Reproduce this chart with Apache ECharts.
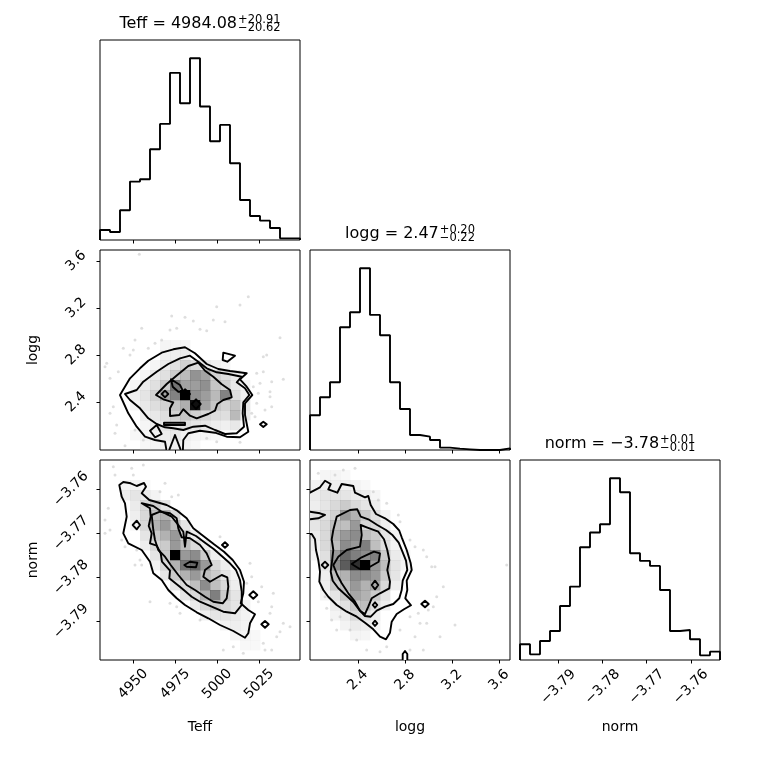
<!DOCTYPE html>
<html>
<head>
<meta charset="utf-8">
<title>corner plot</title>
<script src="https://cdn.jsdelivr.net/npm/echarts@6/dist/echarts.min.js"></script>
<style>
html, body { margin: 0; padding: 0; background: #fff; }
#chart { width: 760px; height: 760px; }
</style>
</head>
<body>
<div id="chart"></div>
<script>
// parameter names and plotted ranges (20 histogram bins across each range)
var dims = ['Teff', 'logg', 'norm'];
var teffRange = [4930.2, 5049.3];
var loggRange = [1.993, 3.693];
var normRange = [-3.7987, -3.7534];
var teffTicks = [4950, 4975, 5000, 5025];
var loggTicks = [2.4, 2.8, 3.2, 3.6];
var normTicks = [-3.79, -3.78, -3.77, -3.76];

// 1D histograms
var teffHist = [30, 24, 89, 175, 182, 272, 348, 501, 410, 545, 400, 296, 345, 230, 120, 72, 58, 36, 5, 5];
var loggHist = [104, 158, 203, 368, 413, 545, 405, 344, 203, 123, 45, 40, 30, 7, 4, 2, 0, 0, 0, 5];
var normHist = [47, 17, 57, 87, 162, 220, 338, 382, 407, 545, 503, 320, 297, 282, 210, 87, 90, 62, 14, 25];

// median, +err, -err
var teffStat = ['4984.08', '20.91', '20.62'];
var loggStat = ['2.47', '0.20', '0.22'];
var normStat = ['-3.78', '0.01', '0.01'];

// 2D histogram cells: [x bin, y bin, density relative to max]
var teffLoggCells = [
  [6,10,.2],[7,10,.2],[8,10,.2],
  [6,9,.24],[7,9,.26],[8,9,.28],
  [5,8,.2],[6,8,.28],[7,8,.35],[8,8,.42],[9,8,.38],[10,8,.3],[11,8,.24],[12,8,.2],
  [4,7,.2],[5,7,.28],[6,7,.35],[7,7,.45],[8,7,.52],[9,7,.65],[10,7,.6],[11,7,.42],[12,7,.35],[13,7,.28],
  [3,6,.2],[4,6,.28],[5,6,.35],[6,6,.45],[7,6,.74],[8,6,.6],[9,6,.62],[10,6,.66],[11,6,.48],[12,6,.42],[13,6,.3],[14,6,.2],
  [3,5,.24],[4,5,.32],[5,5,.42],[6,5,.6],[7,5,.7],[8,5,1],[9,5,.66],[10,5,.62],[11,5,.52],[12,5,.7],[13,5,.36],[14,5,.24],
  [3,4,.2],[4,4,.3],[5,4,.36],[6,4,.42],[7,4,.48],[8,4,.56],[9,4,.97],[10,4,.6],[11,4,.48],[12,4,.42],[13,4,.48],[14,4,.3],
  [4,3,.24],[5,3,.3],[6,3,.36],[7,3,.42],[8,3,.48],[9,3,.42],[10,3,.4],[11,3,.36],[12,3,.36],[13,3,.52],[14,3,.3],
  [4,2,.2],[5,2,.26],[6,2,.3],[7,2,.32],[8,2,.36],[9,2,.32],[10,2,.3],[11,2,.26],[12,2,.24],[13,2,.3],
  [3,1,.18],[4,1,.2],[5,1,.24],[6,1,.26],[7,1,.3],[8,1,.24],[9,1,.2],[10,1,.2],[11,1,.18],
  [4,0,.18],[5,0,.2],[6,0,.24],[7,0,.26],[8,0,.22],[9,0,.18]
];
var teffNormCells = [
  [2,17,.22],[3,17,.22],[4,17,.17],
  [2,16,.26],[3,16,.32],[4,16,.28],[5,16,.22],
  [3,15,.28],[4,15,.39],[5,15,.45],[6,15,.32],
  [3,14,.26],[4,14,.39],[5,14,.5],[6,14,.55],[7,14,.39],
  [3,13,.22],[4,13,.39],[5,13,.55],[6,13,.63],[7,13,.5],[8,13,.32],
  [4,12,.32],[5,12,.45],[6,12,.55],[7,12,.63],[8,12,.39],[9,12,.28],
  [4,11,.26],[5,11,.39],[6,11,.45],[7,11,.63],[8,11,.5],[9,11,.39],[10,11,.26],
  [5,10,.32],[6,10,.45],[7,10,1],[8,10,.63],[9,10,.67],[10,10,.45],[11,10,.26],
  [5,9,.22],[6,9,.39],[7,9,.55],[8,9,.74],[9,9,.77],[10,9,.63],[11,9,.39],[12,9,.26],
  [6,8,.32],[7,8,.45],[8,8,.55],[9,8,.63],[10,8,.5],[11,8,.45],[12,8,.32],[13,8,.22],
  [7,7,.32],[8,7,.39],[9,7,.5],[10,7,.67],[11,7,.5],[12,7,.39],[13,7,.26],
  [8,6,.32],[9,6,.39],[10,6,.55],[11,6,.71],[12,6,.45],[13,6,.32],
  [9,5,.28],[10,5,.39],[11,5,.45],[12,5,.39],[13,5,.32],[14,5,.22],
  [10,4,.26],[11,4,.32],[12,4,.32],[13,4,.28],[14,4,.22],
  [12,3,.22],[13,3,.26],[14,3,.22],
  [13,2,.2],[14,2,.2],[15,2,.17],
  [14,1,.17],[15,1,.17]
];
var loggNormCells = [
  [1,18,.2],[2,18,.2],[3,18,.17],
  [0,17,.22],[1,17,.26],[2,17,.26],[3,17,.22],[4,17,.22],[5,17,.17],
  [0,16,.26],[1,16,.32],[2,16,.32],[3,16,.32],[4,16,.28],[5,16,.26],[6,16,.2],
  [0,15,.26],[1,15,.32],[2,15,.39],[3,15,.45],[4,15,.39],[5,15,.32],[6,15,.26],
  [0,14,.32],[1,14,.35],[2,14,.42],[3,14,.63],[4,14,.55],[5,14,.45],[6,14,.35],[7,14,.22],
  [0,13,.32],[1,13,.39],[2,13,.5],[3,13,.5],[4,13,.63],[5,13,.39],[6,13,.39],[7,13,.26],
  [0,12,.28],[1,12,.39],[2,12,.55],[3,12,.63],[4,12,.67],[5,12,.5],[6,12,.45],[7,12,.32],[8,12,.22],
  [0,11,.26],[1,11,.39],[2,11,.5],[3,11,.67],[4,11,.63],[5,11,.71],[6,11,.5],[7,11,.35],[8,11,.22],
  [0,10,.22],[1,10,.35],[2,10,.63],[3,10,.77],[4,10,.71],[5,10,.67],[6,10,.71],[7,10,.45],[8,10,.28],[9,10,.2],
  [1,9,.32],[2,9,.67],[3,9,.8],[4,9,.9],[5,9,1],[6,9,.63],[7,9,.5],[8,9,.32],[9,9,.22],
  [1,8,.26],[2,8,.5],[3,8,.55],[4,8,.67],[5,8,.67],[6,8,.63],[7,8,.45],[8,8,.32],
  [1,7,.26],[2,7,.45],[3,7,.5],[4,7,.63],[5,7,.55],[6,7,.59],[7,7,.39],[8,7,.26],
  [1,6,.22],[2,6,.32],[3,6,.45],[4,6,.59],[5,6,.55],[6,6,.45],[7,6,.32],
  [2,5,.26],[3,5,.35],[4,5,.45],[5,5,.5],[6,5,.35],[7,5,.26],
  [2,4,.22],[3,4,.28],[4,4,.39],[5,4,.35],[6,4,.26],
  [3,3,.22],[4,3,.28],[5,3,.26],[6,3,.22],
  [4,2,.2],[5,2,.2]
];

// contour loops in bin units (x bin, y bin); the outer level is filled white
var teffLoggOuter = [
  [[2.0,5.5],[3.0,7.17],[4.0,8.17],[4.83,8.93],[6.17,9.73],[7.33,10.07],[8.5,10.27],[9.5,9.67],[10.67,8.6],[11.83,8.1],[13.0,7.9],[14.67,7.67],[14.0,7.07],[14.67,6.33],[15.23,5.5],[14.5,4.67],[14.5,3.5],[14.83,1.83],[14.0,1.27],[12.67,1.33],[11.5,1.73],[10.0,1.93],[8.83,1.67],[8.33,1.0],[8.27,-0.5],[7.5,1.5],[6.73,-0.5],[6.5,0.83],[5.5,1.0],[4.5,1.33],[3.67,2.33],[2.83,3.67]],
  [[12.33,9.73],[13.5,9.43],[12.73,8.83],[12.27,9.0]],
  [[16.0,2.57],[16.33,2.83],[16.67,2.57],[16.33,2.3]]
];
var teffLoggInner = [
  [[2.5,5.6],[3.67,6.0],[4.33,6.83],[5.67,7.83],[6.83,8.6],[8.0,9.17],[9.0,9.43],[9.83,8.83],[10.67,8.17],[11.67,7.77],[12.83,7.6],[14.17,7.33],[13.67,6.77],[14.5,6.17],[14.93,5.5],[14.33,4.77],[14.27,3.67],[14.4,2.33],[13.67,1.67],[12.5,1.6],[11.5,2.0],[10.5,2.43],[9.33,2.33],[8.33,2.0],[7.33,2.17],[6.5,2.27],[5.67,2.6],[4.83,3.17],[4.0,4.17],[3.0,5.0]],
  [[5.0,1.93],[5.67,2.5],[6.17,1.6],[5.5,1.27]],
  [[6.4,2.73],[8.5,2.73],[8.5,2.5],[6.4,2.5]],
  [[5.6,5.5],[6.67,6.6],[7.73,7.5],[8.83,8.4],[9.83,8.73],[10.5,7.93],[11.33,7.33],[12.17,6.57],[13.0,6.0],[13.17,5.27],[12.33,5.0],[11.73,4.6],[11.5,3.93],[10.83,3.6],[9.67,3.17],[9.0,3.43],[8.33,4.07],[7.93,3.5],[7.0,3.4],[7.0,4.17],[7.33,4.77],[6.33,5.07]],
  [[7.1,7.07],[8.0,6.5],[8.33,5.83],[7.83,5.83],[7.27,6.33]],
  [[6.17,5.6],[6.5,5.93],[6.83,5.6],[6.5,5.27]],
  [[8.07,5.6],[8.5,6.07],[9.0,5.6],[8.5,5.1]],
  [[9.17,4.6],[9.6,5.07],[10.07,4.6],[9.6,4.1]]
];
var teffNormOuter = [
  [[1.93,17.5],[2.33,17.8],[3.07,17.67],[3.67,17.4],[4.4,17.7],[4.6,17.33],[4.17,16.67],[4.93,16.0],[6.67,15.5],[7.73,14.93],[8.67,14.17],[9.33,13.17],[10.33,12.4],[11.4,11.57],[12.4,10.83],[13.27,10.0],[14.0,9.0],[14.4,7.83],[14.33,6.67],[14.07,5.67],[14.83,5.0],[15.5,4.57],[15.0,3.67],[14.83,2.67],[14.5,2.23],[13.33,2.9],[12.0,3.5],[10.83,4.17],[9.67,4.77],[8.5,5.5],[7.67,6.17],[6.83,7.0],[6.17,8.0],[5.33,8.67],[5.0,9.83],[4.17,11.0],[2.83,11.67],[2.33,12.67],[2.67,14.33],[2.5,15.67],[2.17,16.33]],
  [[3.27,13.5],[3.67,13.93],[4.0,13.5],[3.67,13.07]],
  [[12.2,11.5],[12.5,11.77],[12.8,11.5],[12.5,11.23]],
  [[14.93,6.5],[15.33,6.87],[15.73,6.5],[15.33,6.13]],
  [[16.13,3.57],[16.5,3.9],[16.87,3.57],[16.5,3.23]]
];
var teffNormInner = [
  [[4.17,15.67],[5.33,15.4],[6.17,14.83],[7.17,14.33],[7.83,13.5],[8.33,12.83],[8.5,11.33],[8.67,12.83],[9.6,12.4],[10.5,11.73],[11.4,11.07],[12.17,10.4],[12.93,9.73],[13.6,9.0],[14.0,8.0],[14.17,6.83],[14.17,5.5],[13.5,4.67],[12.33,4.83],[11.17,5.33],[10.0,5.83],[9.17,6.33],[8.17,7.17],[6.93,8.17],[7.0,8.93],[6.2,9.83],[6.07,10.67],[5.67,11.43],[5.0,11.67],[5.17,12.67],[4.87,13.4],[5.07,14.33],[5.0,15.17]],
  [[5.17,14.5],[6.0,14.83],[7.0,14.67],[7.67,14.17],[7.83,13.17],[8.17,12.27],[9.0,12.17],[10.0,11.5],[10.67,10.67],[11.17,9.5],[10.5,9.0],[10.33,8.33],[11.0,7.83],[12.17,8.5],[12.73,8.27],[12.83,7.33],[12.67,6.17],[12.27,5.67],[11.33,5.83],[10.5,6.33],[9.5,7.0],[8.67,7.5],[7.83,8.5],[7.07,9.5],[6.5,10.33],[5.83,11.0],[5.5,12.0],[5.33,13.0]],
  [[8.43,9.5],[9.0,9.83],[9.73,9.73],[9.6,9.27],[8.67,9.33]]
];
var loggNormOuter = [
  [[0,16.73],[1.0,17.27],[1.5,17.93],[2.07,17.6],[1.83,17.07],[2.73,16.73],[3.17,17.6],[4.33,17.4],[4.5,16.73],[5.5,16.27],[5.83,16.4],[6.07,15.5],[6.6,14.6],[7.5,14.17],[8.33,13.6],[8.93,12.93],[9.17,12.27],[9.67,11.0],[10.07,9.67],[10.17,9.0],[9.67,7.93],[9.73,7.0],[9.53,6.17],[10.1,5.47],[9.4,5.07],[8.67,4.6],[8.17,3.83],[8.0,2.73],[7.6,2.07],[7.0,2.33],[6.33,3.07],[5.5,3.73],[4.67,4.33],[3.67,4.83],[2.67,5.5],[1.83,6.33],[1.33,7.0],[0.93,7.83],[1.0,8.83],[0.83,10.0],[0.6,11.0],[0.5,12.07],[0.17,12.6],[-1.33,12.6],[-1.33,16.73]],
  [[11.13,5.6],[11.5,5.93],[11.87,5.6],[11.5,5.27]],
  [[9.27,-0.5],[9.27,0.6],[9.5,0.9],[9.73,0.6],[9.73,-0.5]]
];
var loggNormInner = [
  [[0,14.83],[1.0,14.67],[1.5,14.5],[0.83,14.17],[0,14.07],[-1,14.07],[-1,14.83]],
  [[2.67,14.33],[4.0,15.0],[4.73,15.07],[5.07,14.33],[5.83,14.07],[6.73,13.5],[7.6,13.0],[8.27,12.47],[8.87,11.73],[9.2,10.93],[9.6,9.93],[9.73,9.0],[9.27,7.93],[9.17,7.0],[8.93,6.17],[8.33,5.6],[7.5,5.33],[6.67,4.93],[6.07,4.33],[5.5,4.4],[4.93,5.0],[4.33,5.8],[3.6,6.47],[2.83,7.17],[2.27,7.93],[2.07,8.83],[2.2,9.83],[2.33,11.0],[2.17,12.07],[2.33,13.0]],
  [[2.83,10.33],[3.67,11.0],[5.0,11.33],[5.17,12.5],[5.07,13.5],[5.67,13.27],[6.83,12.83],[7.4,12.07],[7.73,11.0],[7.93,10.0],[7.73,9.0],[8.0,7.83],[7.93,7.17],[7.0,6.67],[6.17,6.17],[5.83,5.33],[5.5,4.6],[5.0,4.93],[4.5,5.83],[3.83,6.67],[3.17,7.67],[2.73,8.5],[2.33,9.5]],
  [[4.17,9.6],[5.17,10.27],[6.4,10.83],[7.0,10.67],[6.87,9.83],[6.0,9.33],[4.93,9.13]],
  [[1.17,9.5],[1.5,9.83],[1.83,9.5],[1.5,9.17]],
  [[6.17,7.5],[6.5,7.93],[6.83,7.5],[6.5,7.07]],
  [[6.27,5.5],[6.5,5.77],[6.73,5.5],[6.5,5.23]],
  [[6.27,3.67],[6.5,3.93],[6.73,3.67],[6.5,3.4]]
];

// individual samples outside the contours, in bin units
var teffLoggPoints = [
  [3.93,19.57],[11.67,14.33],[14.83,15.33],[14.0,14.5],[7.17,13.4],[8.5,13.27],[9.33,12.9],[11.33,13.0],[12.5,12.83],[10.0,12.07],
  [10.67,11.93],[7.0,12.0],[7.67,12.17],[4.17,12.17],[3.5,11.0],[5.5,10.67],[6.17,11.0],[4.83,10.17],[2.33,10.17],[3.33,10.0],
  [3.0,9.5],[0.67,8.67],[0.5,8.33],[1.83,7.83],[1.0,7.17],[16.33,9.33],[16.67,9.5],[18.0,11.23],[15.67,7.67],[16.33,7.83],
  [16.0,6.67],[17.17,6.83],[17.0,5.83],[18.33,7.07],[15.33,6.33],[15.83,5.67],[17.0,5.33],[1.33,4.33],[1.0,3.67],[1.67,2.5],
  [1.5,1.67],[2.5,0.43],[4.33,1.0],[3.5,2.0],[10.67,1.17],[11.67,0.83],[14.0,0.77],[15.17,3.67],[15.5,3.33],[15.67,4.67],
  [16.5,4.0],[17.17,4.33]
];
var teffNormPoints = [
  [1.33,19.33],[1.5,18.5],[3.17,19.17],[3.33,18.5],[4.33,19.5],[0.83,15.17],[0.5,14.0],[0.5,12.67],[1.0,13.0],[2.17,12.0],
  [2.5,11.33],[3.67,11.0],[4.0,10.0],[3.5,9.5],[4.17,9.5],[5.0,5.83],[6.5,17.67],[6.0,16.83],[7.17,16.33],[7.83,16.5],
  [12.0,12.33],[15.0,9.67],[15.17,8.33],[14.67,7.67],[16.17,7.33],[15.83,5.83],[17.33,6.67],[17.17,5.33],[17.0,4.67],[18.33,3.67],
  [18.0,2.83],[19.0,3.33],[17.67,2.33],[16.33,1.67],[16.5,1.0],[17.17,1.0],[12.33,1.0],[13.33,1.33],[14.33,0.67],[10.0,4.0],
  [7.0,5.67],[7.67,5.33],[8.0,4.67]
];
var loggNormPoints = [
  [0.83,18.67],[2.5,18.5],[3.33,19.0],[4.5,19.17],[6.33,16.83],[6.83,16.0],[7.67,15.67],[8.83,14.5],[9.0,13.83],[10.0,12.0],
  [10.5,11.33],[11.33,11.0],[11.67,10.33],[12.17,9.33],[12.5,9.33],[13.33,7.33],[12.67,6.33],[11.83,5.0],[12.33,5.33],[11.67,3.67],
  [11.0,3.67],[14.5,3.5],[13.0,2.33],[11.33,1.0],[19.67,9.5],[7.0,0.83],[5.67,1.0],[4.67,2.0],[2.67,3.0],[2.17,4.0],
  [1.5,6.33],[1.67,5.17],[3.0,4.33],[4.0,3.0],[7.67,1.33],[9.0,3.0],[10.0,4.33],[10.83,4.67],[10.5,2.33],[10.0,1.0]
];

var chart = echarts.init(document.getElementById('chart'));
var ranges = [teffRange, loggRange, normRange];
var ticks = [teffTicks, loggTicks, normTicks];
var hists = [teffHist, loggHist, normHist];
var stats = [teffStat, loggStat, normStat];
var pairs = {
  '1,0': { cells: teffLoggCells, outer: teffLoggOuter, inner: teffLoggInner, points: teffLoggPoints },
  '2,0': { cells: teffNormCells, outer: teffNormOuter, inner: teffNormInner, points: teffNormPoints },
  '2,1': { cells: loggNormCells, outer: loggNormOuter, inner: loggNormInner, points: loggNormPoints }
};
var FONT = 'DejaVu Sans';
var xLabelMargin = [24, 20, 27];
var yLabelMargin = [0, 24, 29];

function fmt(v) {
  return String(v).replace('-', '\u2212');
}
function binValue(rng, u) {
  return rng[0] + u * (rng[1] - rng[0]) / 20;
}
function axis(k, rng, tk, labels, margin) {
  return {
    type: 'value', gridIndex: k, min: rng[0], max: rng[1],
    axisLine: { show: false, onZero: false },
    splitLine: { show: false },
    axisTick: { show: true, customValues: tk, length: 3.5, lineStyle: { color: '#000', width: 1 } },
    axisLabel: {
      show: labels, customValues: tk, rotate: 45, margin: margin,
      align: 'center', verticalAlign: 'middle',
      color: '#000', fontSize: 14, fontFamily: FONT, formatter: fmt
    }
  };
}
function histData(h, rng) {
  var w = (rng[1] - rng[0]) / h.length;
  var pts = [[rng[0], 0]];
  for (var i = 0; i < h.length; i++) pts.push([rng[0] + i * w, h[i]]);
  pts.push([rng[1], h[h.length - 1]]);
  pts.push([rng[1], 0]);
  return pts;
}
function loopSeries(k, loops, xr, yr, fill, z) {
  return {
    type: 'custom', xAxisIndex: k, yAxisIndex: k, z: z, clip: true, silent: true,
    data: loops.map(function(l) { return [binValue(xr, l[0][0]), binValue(yr, l[0][1])]; }),
    renderItem: function(params, api) {
      var pts = loops[params.dataIndex].map(function(p) {
        return api.coord([binValue(xr, p[0]), binValue(yr, p[1])]);
      });
      return {
        type: 'polygon', shape: { points: pts },
        style: fill ? { fill: '#fff', stroke: null } : { fill: null, stroke: '#000', lineWidth: 1.9, lineJoin: 'round' }
      };
    }
  };
}

var grids = [], xAxes = [], yAxes = [], series = [], graphics = [];
for (var r = 0; r < 3; r++) {
  for (var c = 0; c <= r; c++) {
    var k = grids.length;
    grids.push({
      left: 100 + 210 * c, top: 40 + 210 * r, width: 200, height: 200,
      show: true, borderColor: '#000', borderWidth: 1, backgroundColor: 'rgba(0,0,0,0)'
    });
    xAxes.push(axis(k, ranges[c], ticks[c], r === 2, xLabelMargin[c]));
    if (r === c) {
      var h = hists[r];
      yAxes.push({ type: 'value', gridIndex: k, min: 0, max: 1.1 * Math.max.apply(null, h), show: false });
      series.push({
        type: 'line', xAxisIndex: k, yAxisIndex: k, step: 'end', symbol: 'none', z: 4,
        data: histData(h, ranges[r]),
        lineStyle: { color: '#000', width: 1.9 }
      });
    } else {
      yAxes.push(axis(k, ranges[r], ticks[r], c === 0, yLabelMargin[r]));
      var p = pairs[r + ',' + c], xr = ranges[c], yr = ranges[r];
      series.push({
        type: 'scatter', xAxisIndex: k, yAxisIndex: k, z: 1, silent: true, symbolSize: 3,
        itemStyle: { color: '#000', opacity: 0.13 },
        data: p.points.map(function(q) { return [binValue(xr, q[0]), binValue(yr, q[1])]; })
      });
      series.push(loopSeries(k, p.outer, xr, yr, true, 2));
      (function(cells, xr, yr) {
        series.push({
          type: 'custom', xAxisIndex: k, yAxisIndex: k, z: 3, clip: true, silent: true,
          data: cells.map(function(q) {
            return [binValue(xr, q[0]), binValue(yr, q[1]), binValue(xr, q[0] + 1), binValue(yr, q[1] + 1), q[2]];
          }),
          renderItem: function(params, api) {
            var a = api.coord([api.value(0), api.value(3)]);
            var b = api.coord([api.value(2), api.value(1)]);
            var f = api.value(4), g = Math.round(255 * (1 - f));
            return {
              type: 'rect',
              shape: { x: a[0], y: a[1], width: b[0] - a[0] + 0.4, height: b[1] - a[1] + 0.4 },
              style: { fill: 'rgba(' + g + ',' + g + ',' + g + ',' + f + ')' }
            };
          }
        });
      })(p.cells, xr, yr);
      series.push(loopSeries(k, p.outer, xr, yr, false, 4));
      series.push(loopSeries(k, p.inner, xr, yr, false, 4));
    }
  }
}

// titles with stacked super/subscripts
var ctx = document.createElement('canvas').getContext('2d');
function textWidth(t, size) {
  ctx.font = size + 'px "' + FONT + '"';
  return ctx.measureText(t).width;
}
for (var i = 0; i < 3; i++) {
  var mainText = dims[i] + ' = ' + fmt(stats[i][0]);
  var supText = '+' + stats[i][1], subText = '\u2212' + stats[i][2];
  var wMain = textWidth(mainText, 16);
  var wScript = Math.max(textWidth(supText, 11.5), textWidth(subText, 11.5));
  var cx = 100 + 210 * i + 100, panelTop = 40 + 210 * i;
  var x0 = cx - (wMain + 1 + wScript) / 2;
  graphics.push({ type: 'text', x: x0, y: panelTop - 16, style: { text: mainText, font: '16px "' + FONT + '"', fill: '#000', align: 'left', verticalAlign: 'middle' } });
  graphics.push({ type: 'text', x: x0 + wMain + 1, y: panelTop - 20, style: { text: supText, font: '11.5px "' + FONT + '"', fill: '#000', align: 'left', verticalAlign: 'middle' } });
  graphics.push({ type: 'text', x: x0 + wMain + 1, y: panelTop - 11.5, style: { text: subText, font: '11.5px "' + FONT + '"', fill: '#000', align: 'left', verticalAlign: 'middle' } });
  // x axis names under the bottom row
  graphics.push({ type: 'text', x: cx, y: 727, style: { text: dims[i], font: '14px "' + FONT + '"', fill: '#000', align: 'center', verticalAlign: 'middle' } });
}
// y axis names beside the left column
for (var j = 1; j < 3; j++) {
  graphics.push({ type: 'text', x: 33, y: 40 + 210 * j + 100, rotation: Math.PI / 2, style: { text: dims[j], font: '14px "' + FONT + '"', fill: '#000', align: 'center', verticalAlign: 'middle' } });
}

chart.setOption({
  animation: false,
  backgroundColor: '#fff',
  grid: grids,
  xAxis: xAxes,
  yAxis: yAxes,
  series: series,
  graphic: graphics
});
</script>
</body>
</html>
